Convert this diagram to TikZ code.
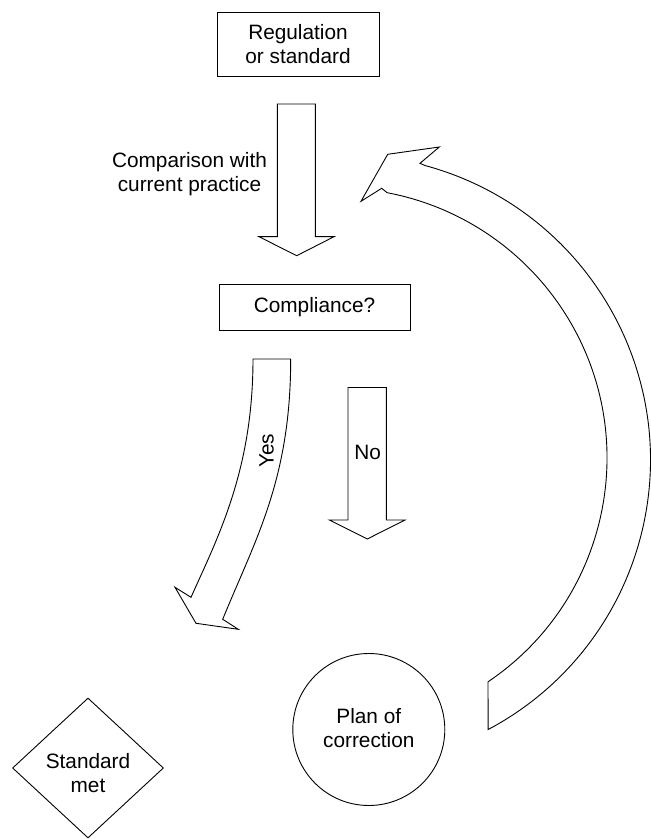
\documentclass[tikz,border=0pt]{standalone}
\usepackage{fontspec}
\setmainfont{Liberation Sans}
\usetikzlibrary{shapes.geometric}

\begin{document}
\begin{tikzpicture}[x=1pt,y=1pt,
  line width=0.9pt,
  every node/.style={font=\fontsize{20.8}{24}\selectfont, align=center, inner sep=0pt},
  box/.style={draw, rectangle},
  blockarrow/.style={draw, line join=miter, fill=white},
]
\useasboundingbox (0,0) rectangle (651,839);

% rectangular steps
\node[box, minimum width=162, minimum height=64] (reg) at (298,795) {Regulation\\or standard};
\node[box, minimum width=191, minimum height=46] (comp) at (314.5,532) {Compliance?};

% outcomes
\node[draw, circle, minimum size=152] (plan) at (368.8,109.5) {};
\node (plantext) at (368.8,110.5) {Plan of\\correction};
\node[draw, diamond, minimum width=151, minimum height=140] (met) at (88,71) {};
\node (mettext) at (88,66) {Standard\\met};

% straight block arrow: regulation -> compliance
\draw[blockarrow] (277.3,735) -- (315.3,735) -- (315.3,602.3) -- (334,602.3)
  -- (296.7,583.3) -- (259,602.3) -- (277.3,602.3) -- cycle;
\node (cmp) at (189.5,665) {Comparison with\\current practice};

% straight block arrow: "No"
\draw[blockarrow] (348,451.5) -- (386.3,451.5) -- (386.3,319) -- (405,319)
  -- (367.3,300) -- (329.3,319) -- (348,319) -- cycle;
\node (no) at (367.7,386.3) {No};

% curved block arrow: "Yes"
\draw[blockarrow] (253,480) .. controls (253,369) and (218,302) .. (191,241.7)
  -- (175,251.7) -- (196,215.7) -- (238.3,209.7) -- (222.7,219.7)
  .. controls (255,299) and (290.7,359) .. (290.7,480) -- cycle;
\node[rotate=90] (yes) at (266.5,388) {Yes};

% large return arrow from the plan back to the comparison
\draw[blockarrow] (337,381) ++(-56:270)
  arc[start angle=-56, end angle=79.3, radius=270]
  -- (381.7,650.7) -- (361,637.7) -- (387.7,684.7) -- (439.3,692)
  -- (420,675.7) -- (424.9,673.5)
  arc[start angle=74.9, end angle=-62.1, radius=305]
  -- cycle;
\end{tikzpicture}
\end{document}
